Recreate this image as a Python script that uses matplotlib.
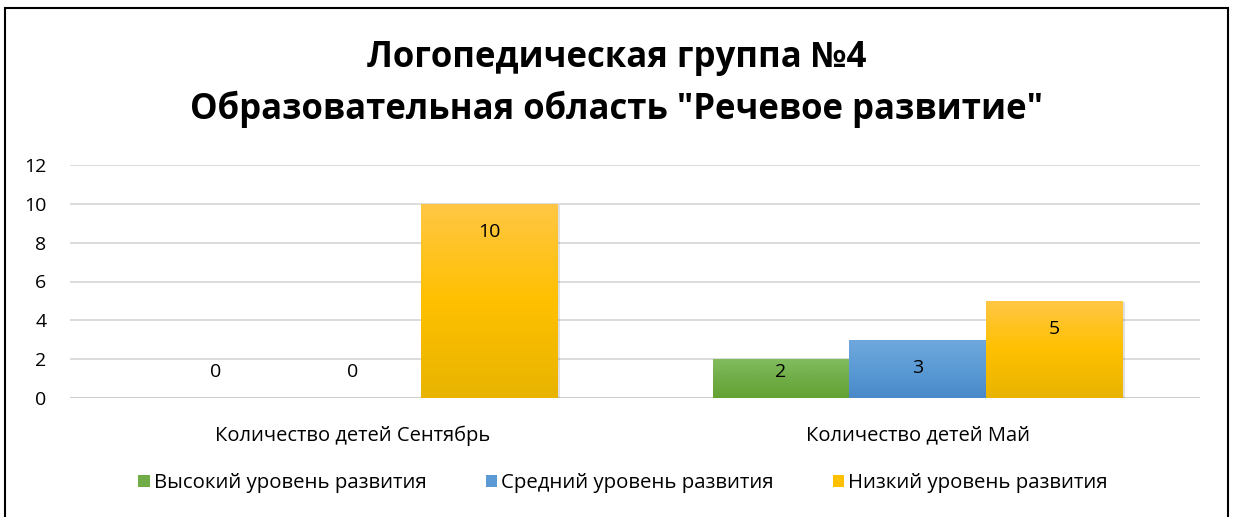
import numpy as np
import matplotlib.pyplot as plt
from matplotlib.patches import Rectangle
from matplotlib.colors import LinearSegmentedColormap

plt.rcParams['font.family'] = ['Open Sans', 'DejaVu Sans']

title = 'Логопедическая группа №4\nОбразовательная область "Речевое развитие"'
categories = ['Количество детей Сентябрь', 'Количество детей Май']
series = ['Высокий уровень развития', 'Средний уровень развития', 'Низкий уровень развития']
values = [
    [0, 2],   # высокий
    [0, 3],   # средний
    [10, 5],  # низкий
]
# gradient colours: top, middle, bottom
grads = [
    ['#81BD5F', '#70AD47', '#64A233'],
    ['#70A8DE', '#5B9BD5', '#4A89C8'],
    ['#FFC746', '#FFC000', '#E8B400'],
]

fig = plt.figure(figsize=(12.33, 5.17), dpi=100)
ax = fig.add_axes([70 / 1233, 119 / 517, 1130 / 1233, 233 / 517])

x = np.arange(len(categories))
w = 0.2416
grad_img = np.linspace(1, 0, 256).reshape(-1, 1)

for i, (name, vals, cols) in enumerate(zip(series, values, grads)):
    pos = x + (i - 1) * w
    bars = ax.bar(pos, vals, w, color=cols[1], label=name, zorder=2)
    cmap = LinearSegmentedColormap.from_list(name, [cols[2], cols[1], cols[0]])
    for b, v in zip(bars, vals):
        if v == 0:
            continue
        # soft shadow
        ax.add_patch(Rectangle((b.get_x() + 0.004, 0), b.get_width(), v - 0.05,
                               color='#000000', alpha=0.12, zorder=1.5, lw=0))
        im = ax.imshow(grad_img, cmap=cmap, aspect='auto', zorder=2.1,
                       extent=[b.get_x(), b.get_x() + b.get_width(), 0, v])
        im.set_clip_path(b)
    for p, v in zip(pos, vals):
        ax.text(p, max(v - 1.45, 1.35), str(v), ha='center', va='center',
                fontsize=14, color='black', zorder=3)

ax.set_xlim(-0.5, 1.5)
ax.set_ylim(0, 12)
ax.set_yticks(range(0, 13, 2))
ax.set_xticks(x)
ax.set_xticklabels(categories, fontsize=14.5)
ax.tick_params(axis='y', labelsize=14, length=0, pad=17)
ax.tick_params(axis='x', length=0, pad=20)
ax.grid(axis='y', color='#D9D9D9', lw=1.3, zorder=0)
ax.set_axisbelow(True)
for s in ax.spines.values():
    s.set_visible(False)
ax.axhline(0, color='#D0D0D0', lw=1.5, zorder=1)

fig.suptitle(title, fontsize=25, fontweight='bold', y=0.922, linespacing=1.5)

fig.legend(loc='center', bbox_to_anchor=(623 / 1233, 1 - 483 / 517), ncol=3,
           frameon=False, fontsize=14.7, handlelength=0.55, handleheight=0.55,
           handletextpad=0.2, columnspacing=2.9)

fig.patches.append(Rectangle((5 / 1233, -0.1), 1223 / 1233, 1.1 - 8 / 517,
                             transform=fig.transFigure, fill=False,
                             edgecolor='black', lw=1.5))

fig.savefig('out.png', dpi=100)
